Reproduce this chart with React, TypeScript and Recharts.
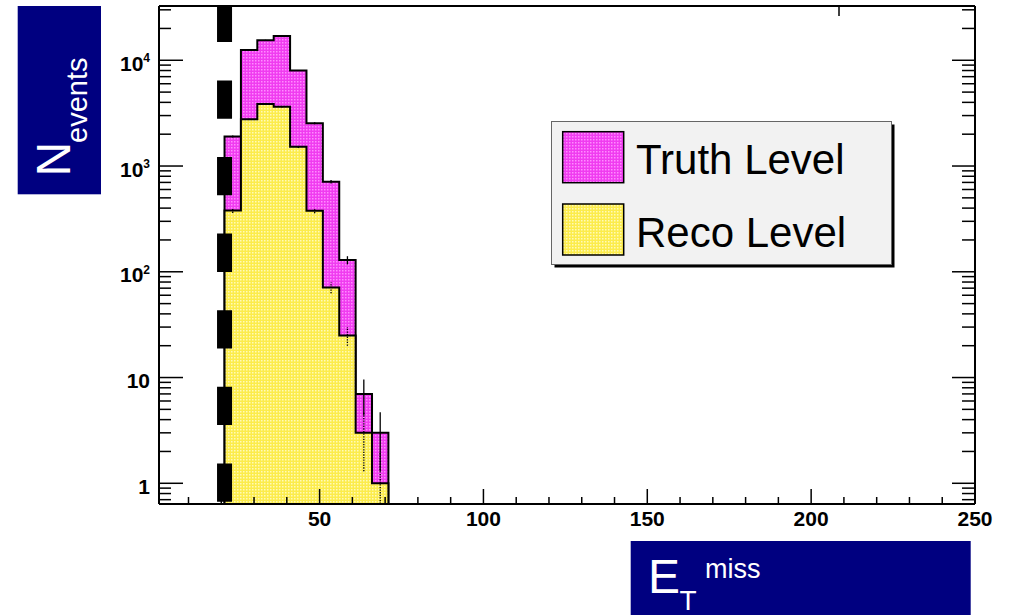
import {
  Area,
  ComposedChart,
  ErrorBar,
  Legend,
  Line,
  ReferenceLine,
  XAxis,
  YAxis,
} from 'recharts'

// 5 GeV bins, lower edges plus the closing edge of the last bin
const BIN_EDGES = [21, 26, 31, 36, 41, 46, 51, 56, 61, 66, 71]
const TRUTH_COUNTS = [1900, 12500, 15500, 17000, 8000, 2540, 710, 129, 7, 3]
const RECO_COUNTS = [380, 2770, 3860, 3640, 1520, 378, 71, 25, 3, 1]
const TRUTH_ERRORS = [44, 112, 125, 130, 89, 50, 27, 11.4, 2.6, 1.7]
const RECO_ERRORS: (number | number[])[] = [19.5, 53, 62, 60, 39, 19.4, 8.4, 5, 1.7, [0.36, 1]]

const CUT_VALUE = 21

const X_DOMAIN: [number, number] = [1, 250]
const Y_DOMAIN: [number, number] = [0.637, 32600]
const X_MAJOR = [50, 100, 150, 200, 250]
const X_MINOR = [10, 20, 30, 40, 60, 70, 80, 90, 110, 120, 130, 140, 160, 170, 180, 190, 210, 220, 230, 240]
const Y_MAJOR = [1, 10, 100, 1000, 10000]
const Y_MANTISSAS = [2, 3, 4, 5, 6, 7, 8, 9]
const Y_DECADES = [0.1, 1, 10, 100, 1000, 10000]
const Y_MINOR = Y_DECADES.flatMap((d) => Y_MANTISSAS.map((m) => m * d)).filter(
  (v) => v > Y_DOMAIN[0] && v < Y_DOMAIN[1],
)
const Y_LABELS: Record<number, [string, string?]> = {
  1: ['1'],
  10: ['10'],
  100: ['10', '2'],
  1000: ['10', '3'],
  10000: ['10', '4'],
}

const SERIES = [
  { key: 'truth', name: 'Truth Level', pattern: 'truthFill' },
  { key: 'reco', name: 'Reco Level', pattern: 'recoFill' },
]

const FONT = '"Liberation Sans", Arial, Helvetica, sans-serif'
const NAVY = '#000080'

// step outline: start and end on the axis floor so the outer edges get stroked
const lastBin = TRUTH_COUNTS.length - 1
const histRows = [
  { x: BIN_EDGES[0], truth: Y_DOMAIN[0], reco: Y_DOMAIN[0] },
  ...BIN_EDGES.map((edge, i) => {
    const k = Math.min(i, lastBin)
    return { x: edge, truth: TRUTH_COUNTS[k], reco: RECO_COUNTS[k] }
  }),
  { x: BIN_EDGES[BIN_EDGES.length - 1], truth: Y_DOMAIN[0], reco: Y_DOMAIN[0] },
]

const binCentre = (i: number) => (BIN_EDGES[i] + BIN_EDGES[i + 1]) / 2
const truthPoints = TRUTH_COUNTS.map((y, i) => ({ x: binCentre(i), y, err: TRUTH_ERRORS[i] }))
const recoPoints = RECO_COUNTS.map((y, i) => ({ x: binCentre(i), y, err: RECO_ERRORS[i] }))

type Side = 'bottom' | 'top' | 'left' | 'right'
const TICK_LEN: Record<Side, [number, number]> = {
  bottom: [15, 7],
  top: [17, 10],
  left: [24, 12],
  right: [23, 13],
}

function FrameTick(props: any) {
  const { x, y, payload, side } = props as { x: number; y: number; payload: { value: number }; side: Side }
  const v = payload.value
  const vertical = side === 'left' || side === 'right'
  const major = (vertical ? Y_MAJOR : X_MAJOR).includes(v)
  const len = TICK_LEN[side][major ? 0 : 1]
  let x2 = x
  let y2 = y
  if (side === 'bottom') y2 = y - len
  if (side === 'top') y2 = y + len
  if (side === 'left') x2 = x + len
  if (side === 'right') x2 = x - len

  let label = null
  if (major && side === 'bottom') {
    label = (
      <text x={x} y={y + 22} textAnchor="middle" fontSize={21} fontWeight="bold" fontFamily={FONT} fill="#000">
        {v}
      </text>
    )
  }
  if (major && side === 'left') {
    const [base, exp] = Y_LABELS[v]
    label = (
      <text x={x - 9} y={y + 10.5} textAnchor="end" fontSize={21} fontWeight="bold" fontFamily={FONT} fill="#000">
        <tspan>{base}</tspan>
        {exp ? (
          <tspan dy={-8.5} fontSize={12}>
            {exp}
          </tspan>
        ) : null}
      </text>
    )
  }
  return (
    <g>
      <line x1={x} y1={y} x2={x2} y2={y2} stroke="#000" strokeWidth={1.5} />
      {label}
    </g>
  )
}

function HistLegend() {
  return (
    <svg width={346} height={148} style={{ display: 'block' }}>
      <rect x={3.5} y={3.5} width={340} height={143} fill="#000" />
      <rect x={0.5} y={0.5} width={340} height={143} fill="#f2f2f2" stroke="#666" strokeWidth={1} />
      {SERIES.map((s, i) => (
        <g key={s.key}>
          <rect
            x={11.7}
            y={10.7 + i * 72.3}
            width={61}
            height={51}
            fill={`url(#${s.pattern})`}
            stroke="#000"
            strokeWidth={1.5}
          />
          <text x={85} y={53 + i * 73.3} fontSize={42} fontFamily={FONT} fill="#000">
            {s.name}
          </text>
        </g>
      ))}
    </svg>
  )
}

const frameLine = { stroke: '#000', strokeWidth: 2 }

export default function App() {
  return (
    <div
      style={{
        position: 'absolute',
        left: 0,
        top: 0,
        width: 1011,
        height: 615,
        background: '#fff',
        fontFamily: FONT,
        overflow: 'hidden',
      }}
    >
      <svg width={0} height={0} style={{ position: 'absolute' }}>
        <defs>
          <pattern id="truthFill" width={3} height={3} patternUnits="userSpaceOnUse">
            <rect width={3} height={3} fill="#f03cf0" />
            <rect width={1.5} height={1.5} fill="#ff8cff" />
          </pattern>
          <pattern id="recoFill" width={3} height={3} patternUnits="userSpaceOnUse">
            <rect width={3} height={3} fill="#fcec4c" />
            <rect width={1.5} height={1.5} fill="#fffab8" />
          </pattern>
        </defs>
      </svg>

      {/* axes are 1px thick, so the margins leave the plot at x 159..975, y 6..504 */}
      <ComposedChart
        width={1011}
        height={615}
        data={histRows}
        margin={{ top: 5, right: 35, bottom: 110, left: 158 }}
      >
        <XAxis
          xAxisId="b"
          dataKey="x"
          type="number"
          domain={X_DOMAIN}
          allowDataOverflow
          ticks={[...X_MINOR, ...X_MAJOR]}
          interval={0}
          height={1}
          tickSize={0}
          tickMargin={0}
          tickLine={false}
          axisLine={frameLine}
          tick={(p: any) => <FrameTick {...p} side="bottom" />}
        />
        <XAxis
          xAxisId="t"
          orientation="top"
          type="number"
          domain={X_DOMAIN}
          allowDataOverflow
          ticks={[...X_MINOR, ...X_MAJOR]}
          interval={0}
          height={1}
          tickSize={0}
          tickMargin={0}
          tickLine={false}
          axisLine={frameLine}
          tick={(p: any) => <FrameTick {...p} side="top" />}
        />
        <YAxis
          yAxisId="l"
          type="number"
          scale="log"
          domain={Y_DOMAIN}
          allowDataOverflow
          ticks={[...Y_MINOR, ...Y_MAJOR]}
          interval={0}
          width={1}
          tickSize={0}
          tickMargin={0}
          tickLine={false}
          axisLine={frameLine}
          tick={(p: any) => <FrameTick {...p} side="left" />}
        />
        <YAxis
          yAxisId="r"
          orientation="right"
          type="number"
          scale="log"
          domain={Y_DOMAIN}
          allowDataOverflow
          ticks={[...Y_MINOR, ...Y_MAJOR]}
          interval={0}
          width={1}
          tickSize={0}
          tickMargin={0}
          tickLine={false}
          axisLine={frameLine}
          tick={(p: any) => <FrameTick {...p} side="right" />}
        />

        <Area
          xAxisId="b"
          yAxisId="l"
          type="stepAfter"
          dataKey="truth"
          name="Truth Level"
          stroke="#000"
          strokeWidth={2}
          fill="url(#truthFill)"
          fillOpacity={1}
          isAnimationActive={false}
        />
        <Line
          xAxisId="b"
          yAxisId="l"
          data={truthPoints}
          dataKey="y"
          stroke="none"
          dot={false}
          activeDot={false}
          legendType="none"
          isAnimationActive={false}
        >
          <ErrorBar dataKey="err" direction="y" width={0} stroke="#000" strokeWidth={1.3} />
        </Line>
        <Area
          xAxisId="b"
          yAxisId="l"
          type="stepAfter"
          dataKey="reco"
          name="Reco Level"
          stroke="#000"
          strokeWidth={2}
          fill="url(#recoFill)"
          fillOpacity={1}
          isAnimationActive={false}
        />
        <Line
          xAxisId="b"
          yAxisId="l"
          data={recoPoints}
          dataKey="y"
          stroke="none"
          dot={false}
          activeDot={false}
          legendType="none"
          isAnimationActive={false}
        >
          <ErrorBar
            dataKey="err"
            direction="y"
            width={0}
            stroke="#000"
            strokeWidth={1.3}
            strokeDasharray="1.3 1.3"
          />
        </Line>

        <ReferenceLine
          xAxisId="b"
          yAxisId="l"
          x={CUT_VALUE}
          stroke="#000"
          strokeWidth={15}
          strokeDasharray="38.3 38.3"
          strokeDashoffset={74.3}
        />

        <Legend
          layout="horizontal"
          align="center"
          verticalAlign="middle"
          content={() => <HistLegend />}
          wrapperStyle={{ left: 551, top: 121, width: 346, height: 148 }}
        />
      </ComposedChart>

      <svg
        width={1011}
        height={615}
        style={{ position: 'absolute', left: 0, top: 0, pointerEvents: 'none' }}
      >
        <rect x={17.7} y={6} width={83.3} height={188.3} fill={NAVY} />
        <g transform="translate(70,176.5) rotate(-90)" fill="#fff" fontFamily={FONT}>
          <text x={0} y={0} fontSize={48}>
            N
          </text>
          <text x={33.6} y={17} fontSize={29}>
            events
          </text>
        </g>

        <rect x={630.7} y={541} width={340} height={80} fill={NAVY} />
        <g fill="#fff" fontFamily={FONT}>
          <text x={648} y={593} fontSize={48}>
            E
          </text>
          <text x={679.5} y={610} fontSize={28}>
            T
          </text>
          <text x={705} y={578} fontSize={27}>
            miss
          </text>
        </g>
      </svg>
    </div>
  )
}
